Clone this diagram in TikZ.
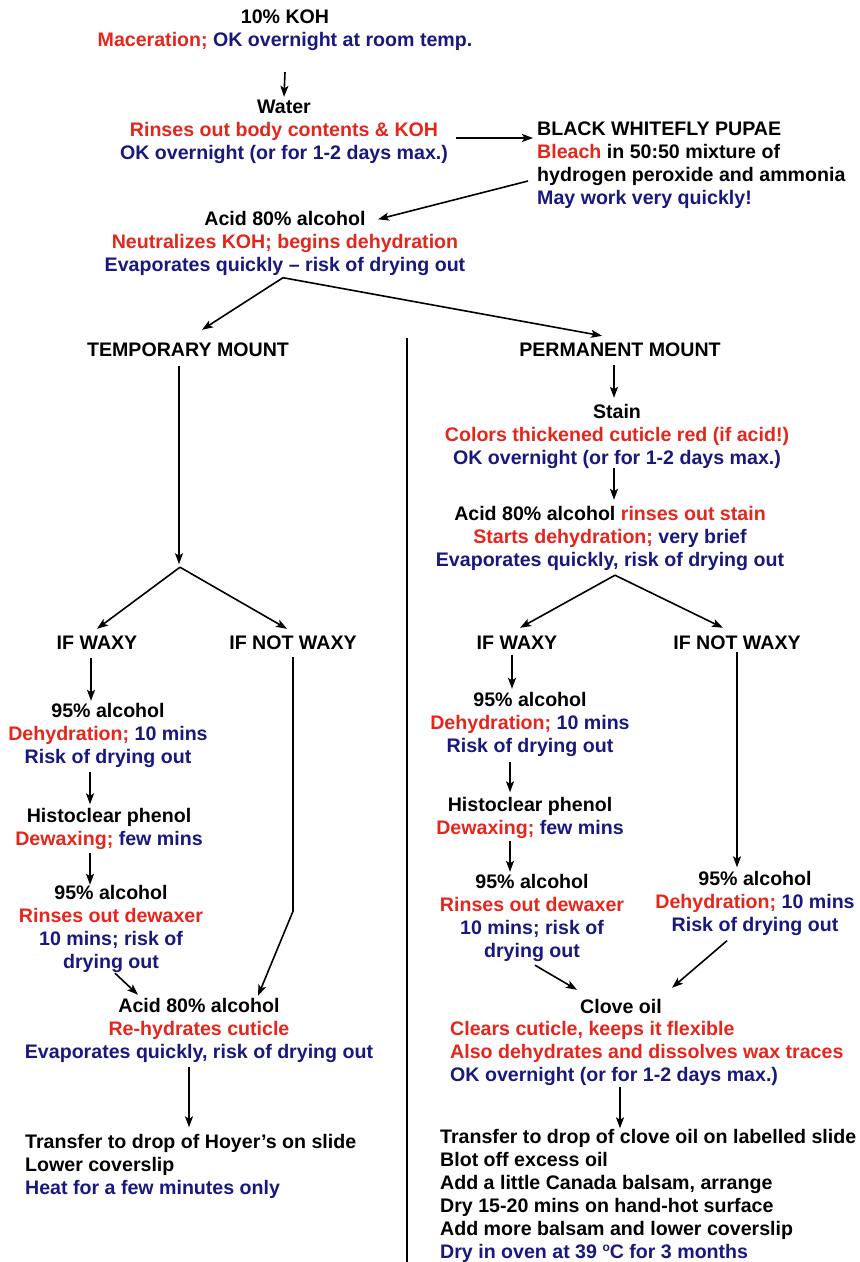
\documentclass[tikz,border=0pt]{standalone}
\usepackage{fontspec}
\setmainfont{Liberation Sans}
\usetikzlibrary{arrows.meta,calc}
\definecolor{rd}{RGB}{228,38,28}
\definecolor{bl}{RGB}{24,24,126}
\newcommand\fsz{\fontsize{19.6}{23}\selectfont\bfseries}
\newcommand\st{\rule[-5pt]{0pt}{20pt}}
\newcommand\redt[1]{\textcolor{rd}{#1}}
\newcommand\bluet[1]{\textcolor{bl}{#1}}
\tikzset{
  txt/.style={font=\fsz, align=center, inner sep=0pt},
  txtl/.style={font=\fsz, align=left, inner sep=0pt, anchor=west},
  arr/.style={-{Stealth[length=11pt,width=8pt,inset=2.5pt]}, line width=1.6pt},
  divider/.style={line width=2.5pt}
}
\begin{document}
\begin{tikzpicture}[x=1pt,y=-1pt]
\useasboundingbox[fill=white] (0,0) rectangle (860,1262);

% top chain
\node[txt] (koh) at (285,29.5) {\st 10\% KOH\\\st\redt{Maceration;} \bluet{OK overnight at room temp.}};
\node[txt] (water) at (284,131) {\st Water\\\st\redt{Rinses out body contents \& KOH}\\\st\bluet{OK overnight (or for 1-2 days max.)}};
\node[txtl] (whitefly) at (537,165) {\st BLACK WHITEFLY PUPAE\\\st\redt{Bleach} in 50:50 mixture of\\\st hydrogen peroxide and ammonia\\\st\bluet{May work very quickly!}};
\node[txt] (acid1) at (285,243.5) {\st Acid 80\% alcohol\\\st\redt{Neutralizes KOH; begins dehydration}\\\st\bluet{Evaporates quickly – risk of drying out}};
\node[txt] (temp) at (188,351) {\st TEMPORARY MOUNT};
\node[txt] (perm) at (620,351) {\st PERMANENT MOUNT};

% left column
\node[txt] (waxyL) at (97,644) {\st IF WAXY};
\node[txt] (notwaxyL) at (293,644) {\st IF NOT WAXY};
\node[txt] (alcL1) at (108,735) {\st 95\% alcohol\\\st\redt{Dehydration;} \bluet{10 mins}\\\st\bluet{Risk of drying out}};
\node[txt] (histoL) at (109,829) {\st Histoclear phenol\\\st\redt{Dewaxing;} \bluet{few mins}};
\node[txt] (alcL2) at (111,928.5) {\st 95\% alcohol\\\st\redt{Rinses out dewaxer}\\\st\bluet{10 mins; risk of}\\\st\bluet{drying out}};
\node[txt] (acidL) at (199,1030) {\st Acid 80\% alcohol\\\st\redt{Re-hydrates cuticle}\\\st\bluet{Evaporates quickly, risk of drying out}};
\node[txtl] (finalL) at (25,1166.5) {\st Transfer to drop of Hoyer’s on slide\\\st Lower coverslip\\\st\bluet{Heat for a few minutes only}};

% right column
\node[txt] (stain) at (617,436) {\st Stain\\\st\redt{Colors thickened cuticle red (if acid!)}\\\st\bluet{OK overnight (or for 1-2 days max.)}};
\node[txt] (acidR) at (610,538) {\st Acid 80\% alcohol \redt{rinses out stain}\\\st\redt{Starts dehydration;} \bluet{very brief}\\\st\bluet{Evaporates quickly, risk of drying out}};
\node[txt] (waxyR) at (517,644) {\st IF WAXY};
\node[txt] (notwaxyR) at (737,644) {\st IF NOT WAXY};
\node[txt] (alcR1) at (530,724) {\st 95\% alcohol\\\st\redt{Dehydration;} \bluet{10 mins}\\\st\bluet{Risk of drying out}};
\node[txt] (histoR) at (530,818) {\st Histoclear phenol\\\st\redt{Dewaxing;} \bluet{few mins}};
\node[txt] (alcR2) at (532,917.5) {\st 95\% alcohol\\\st\redt{Rinses out dewaxer}\\\st\bluet{10 mins; risk of}\\\st\bluet{drying out}};
\node[txt] (alcR3) at (755,903.5) {\st 95\% alcohol\\\st\redt{Dehydration;} \bluet{10 mins}\\\st\bluet{Risk of drying out}};
\node[txt] (cloveT) at (621,1008) {\st Clove oil};
\node[txtl] (cloveB) at (450,1053) {\st\redt{Clears cuticle, keeps it flexible}\\\st\redt{Also dehydrates and dissolves wax traces}\\\st\bluet{OK overnight (or for 1-2 days max.)}};
\node[txtl] (finalR) at (440,1196) {\st Transfer to drop of clove oil on labelled slide\\\st Blot off excess oil\\\st Add a little Canada balsam, arrange\\\st Dry 15-20 mins on hand-hot surface\\\st Add more balsam and lower coverslip\\\st\bluet{Dry in oven at 39 \raisebox{7pt}{\fontsize{12}{12}\selectfont o}C for 3 months}};

% divider
\draw[divider] (407,338) -- (407,1262);

% connectors: top
\draw[arr] ($(koh.south)+(0,21)$) -- ($(water.north)+(0,-1)$);
\draw[arr] ($(water.east)+(8,7)$) -- ($(water.east -| whitefly.west)+(-4,7)$);
\draw[arr] ($(whitefly.west)+(-9,16)$) -- ($(acid1.north)+(93,9)$);
\coordinate (fork0) at ($(acid1.south)+(-2,1)$);
\draw[arr] (fork0) -- ($(temp.north)+(14,-11)$);
\draw[arr] (fork0) -- ($(perm.north)+(-18,-5)$);

% left column connectors
\coordinate (forkL) at ($(temp.south)+(-8,206)$);
\draw[arr] ($(temp.south)+(-9,5)$) -- ($(forkL)+(-1,-3)$);
\draw[arr] (forkL) -- ($(waxyL.north)+(0,-5)$);
\draw[arr] (forkL) -- ($(notwaxyL.north)+(-6,-5)$);
\draw[arr] ($(waxyL.south)+(-6,4)$) -- ($(alcL1.north)+(-17,-1)$);
\draw[arr] ($(alcL1.south)+(-18,4)$) -- ($(histoL.north)+(-19,-3)$);
\draw[arr] ($(histoL.south)+(-19,2)$) -- ($(alcL2.north)+(-21,1)$);
\draw[arr] ($(alcL2.south)+(4,0)$) -- ($(acidL.north)+(-61,-2)$);
\draw[arr] ($(notwaxyL.south)+(0,3)$) -- ($(notwaxyL.south)+(0,257)$) -- ($(acidL.north)+(59,-1)$);
\draw[arr] ($(acidL.south)+(-10,4)$) -- ($(finalL.north west)+(164,-6)$);

% right column connectors
\draw[arr] ($(perm.south)+(-6,4)$) -- ($(stain.north)+(-3,-5)$);
\draw[arr] ($(stain.south)+(-3,-1)$) -- ($(acidR.north)+(4,-5)$);
\coordinate (forkR) at ($(acidR.south)+(5,4)$);
\draw[arr] (forkR) -- ($(waxyR.north)+(3,-6)$);
\draw[arr] (forkR) -- ($(notwaxyR.north)+(-14,-6)$);
\draw[arr] ($(waxyR.south)+(-5,1)$) -- ($(alcR1.north)+(-18,-2)$);
\draw[arr] ($(alcR1.south)+(-20,5)$) -- ($(histoR.north)+(-20,-4)$);
\draw[arr] ($(histoR.south)+(-20,1)$) -- ($(alcR2.north)+(-22,-1)$);
\draw[arr] ($(alcR2.south)+(3,3)$) -- ($(cloveT.north)+(-44,-8)$);
\draw[arr] ($(notwaxyR.south)+(0,-2)$) -- ($(alcR3.north)+(-18,-3)$);
\draw[arr] ($(alcR3.south)+(-28,4)$) -- ($(cloveT.north)+(51,-10)$);
\draw[arr] ($(cloveB.south west)+(170,1)$) -- ($(finalR.north west)+(180,0)$);
\end{tikzpicture}
\end{document}
